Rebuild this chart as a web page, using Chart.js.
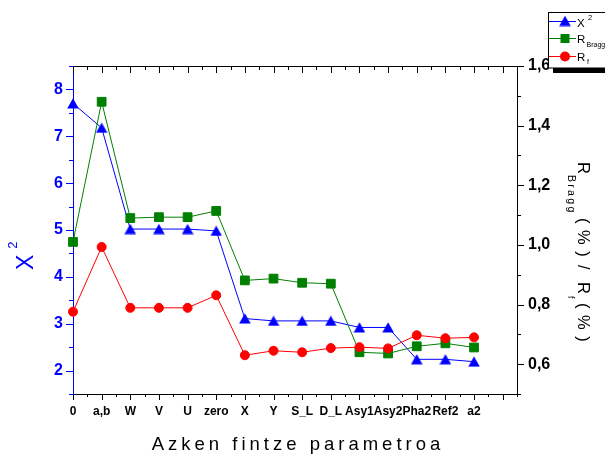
<!DOCTYPE html>
<html>
<head>
<meta charset="utf-8">
<script src="https://cdn.jsdelivr.net/npm/chart.js@4"></script>
<style>
  html, body { margin: 0; padding: 0; background: #fff; }
  canvas { display: block; }
</style>
</head>
<body>
<canvas id="c" width="605" height="455"></canvas>
<script>
// Refinement steps (x categories) and the fit quality after each step
const parameters = ['0', 'a,b', 'W', 'V', 'U', 'zero', 'X', 'Y', 'S_L', 'D_L', 'Asy1', 'Asy2', 'Pha2', 'Ref2', 'a2'];
const chiSquare = [7.70, 7.18, 5.02, 5.02, 5.02, 4.98, 3.11, 3.06, 3.06, 3.06, 2.92, 2.92, 2.24, 2.24, 2.19];
const rBragg    = [1.010, 1.480, 1.090, 1.093, 1.093, 1.114, 0.881, 0.887, 0.873, 0.870, 0.640, 0.636, 0.660, 0.670, 0.656];
const rF        = [0.776, 0.993, 0.789, 0.789, 0.789, 0.831, 0.630, 0.645, 0.640, 0.654, 0.657, 0.653, 0.697, 0.687, 0.690];

// Tick values of the two vertical axes
const chiTicks = [2, 3, 4, 5, 6, 7, 8];
const rTicks = [0.6, 0.8, 1.0, 1.2, 1.4, 1.6];

const FONT = '"Liberation Sans", Arial, sans-serif';
const BLUE = '#0000ff', GREEN = '#008000', RED = '#ff0000';

// Triangle marker centred on its bounding box
function triangleMarker(color) {
  const c = document.createElement('canvas');
  c.width = 12; c.height = 11;
  const g = c.getContext('2d');
  g.fillStyle = color;
  g.beginPath();
  g.moveTo(6, 0.3);
  g.lineTo(11.8, 10.6);
  g.lineTo(0.2, 10.6);
  g.closePath();
  g.fill();
  return c;
}
const triangle = triangleMarker(BLUE);

const toPoints = arr => arr.map((v, i) => ({ x: i, y: v }));

function seg(ctx, x1, y1, x2, y2, color, w) {
  ctx.strokeStyle = color;
  ctx.lineWidth = w;
  ctx.beginPath();
  ctx.moveTo(x1, y1);
  ctx.lineTo(x2, y2);
  ctx.stroke();
}

function drawSpaced(ctx, text, x, y, sp) {
  for (const ch of text) {
    ctx.fillText(ch, x, y);
    x += ctx.measureText(ch).width + sp;
  }
  return x;
}
function spacedWidth(ctx, text, sp) {
  let w = 0;
  for (const ch of text) w += ctx.measureText(ch).width + sp;
  return w - sp;
}

// Frame ticks, axis titles and the legend box
const decorations = {
  id: 'decorations',
  afterDraw(chart) {
    const { ctx, chartArea: a, scales } = chart;
    const sx = scales.x, sl = scales.y, sr = scales.y1;
    ctx.save();

    // top border of the frame
    seg(ctx, a.left, Math.round(a.top) + 0.5, a.right, Math.round(a.top) + 0.5, '#000', 1);

    // bottom (outward) and top (inward) ticks, majors on integers
    for (let k = 0; k <= 31; k++) {
      const px = Math.round(sx.getPixelForValue(k / 2)) + 0.5;
      const major = k % 2 === 0;
      seg(ctx, px, a.bottom, px, a.bottom + (major ? 6 : 3), '#000', 1);
      seg(ctx, px, a.top, px, a.top + (major ? 7 : 4), '#000', 1);
    }
    // left axis ticks
    for (let k = 3; k <= 17; k++) {
      const py = Math.round(sl.getPixelForValue(k / 2)) + 0.5;
      const major = k % 2 === 0;
      seg(ctx, a.left, py, a.left - (major ? 7 : 4), py, BLUE, 1);
    }
    // right axis ticks
    for (let k = 5; k <= 16; k++) {
      const py = Math.round(sr.getPixelForValue(k / 10)) + 0.5;
      const major = k % 2 === 0;
      seg(ctx, a.right, py, a.right + (major ? 7 : 4), py, '#000', 1);
    }

    // x axis title
    ctx.fillStyle = '#000';
    ctx.textBaseline = 'alphabetic';
    ctx.textAlign = 'left';
    ctx.font = `18.5px ${FONT}`;
    const xt = 'Azken fintze parametroa';
    const xw = spacedWidth(ctx, xt, 4);
    drawSpaced(ctx, xt, (a.left + a.right) / 2 - xw / 2 + 1, 450, 4);

    // left axis title: X²
    ctx.save();
    ctx.translate(33, 270);
    ctx.rotate(-Math.PI / 2);
    ctx.fillStyle = BLUE;
    ctx.font = `23px ${FONT}`;
    ctx.fillText('X', 0, 0);
    const xW = ctx.measureText('X').width;
    ctx.font = `13px ${FONT}`;
    ctx.fillText('2', xW + 6, -16);
    ctx.restore();

    // right axis title: R_Bragg (%) / R_f (%)
    ctx.save();
    ctx.translate(578, 162);
    ctx.rotate(Math.PI / 2);
    ctx.fillStyle = '#000';
    ctx.font = `16.5px ${FONT}`;
    ctx.fillText('R', 0, 0);
    ctx.font = `10.5px ${FONT}`;
    drawSpaced(ctx, 'Bragg', 13, 10, 2.3);
    ctx.font = `16.5px ${FONT}`;
    drawSpaced(ctx, '(%)', 56, 0, 6.5);
    ctx.fillText('/', 103, 0);
    ctx.fillText('R', 120, 0);
    ctx.font = `9px ${FONT}`;
    ctx.fillText('f', 134, 10);
    ctx.font = `16.5px ${FONT}`;
    drawSpaced(ctx, '(%)', 141, 0, 6.5);
    ctx.restore();

    // legend box with its shadow
    ctx.fillStyle = '#fff';
    ctx.fillRect(548, 12, 70, 56);
    ctx.fillStyle = '#000';
    ctx.fillRect(553, 68, 70, 5);
    ctx.strokeStyle = '#000';
    ctx.lineWidth = 1;
    ctx.strokeRect(548.5, 12.5, 70, 55.5);

    const ly = [21, 38.5, 56.5];
    seg(ctx, 549, ly[0] + 0.5, 576, ly[0] + 0.5, BLUE, 1);
    ctx.drawImage(triangle, 565 - 6, ly[0] - 5.5);
    seg(ctx, 549, ly[1], 576, ly[1], GREEN, 1);
    ctx.fillStyle = GREEN;
    ctx.fillRect(560.5, ly[1] - 4.5, 9, 9);
    seg(ctx, 549, ly[2], 576, ly[2], RED, 1);
    ctx.fillStyle = RED;
    ctx.beginPath();
    ctx.arc(565, ly[2], 5, 0, Math.PI * 2);
    ctx.fill();

    ctx.fillStyle = '#000';
    ctx.font = `11.5px ${FONT}`;
    ctx.fillText('X', 577, 26.5);
    ctx.font = `7.5px ${FONT}`;
    ctx.fillText('2', 588, 19.5);
    ctx.font = `11.5px ${FONT}`;
    ctx.fillText('R', 577, 43);
    ctx.font = `7px ${FONT}`;
    ctx.fillText('Bragg', 586.5, 46.5);
    ctx.font = `11.5px ${FONT}`;
    ctx.fillText('R', 577, 61);
    ctx.font = `7px ${FONT}`;
    ctx.fillText('f', 587, 63.5);

    ctx.restore();
  }
};

new Chart(document.getElementById('c'), {
  type: 'line',
  data: {
    datasets: [
      {
        label: 'X²', data: toPoints(chiSquare), yAxisID: 'y',
        borderColor: BLUE, backgroundColor: BLUE, borderWidth: 1,
        pointStyle: triangle, pointRadius: 6, order: 3, clip: false
      },
      {
        label: 'R_Bragg', data: toPoints(rBragg), yAxisID: 'y1',
        borderColor: GREEN, backgroundColor: GREEN, borderWidth: 1,
        pointStyle: 'rect', pointRadius: 6.2, pointBorderWidth: 1, order: 2, clip: false
      },
      {
        label: 'R_f', data: toPoints(rF), yAxisID: 'y1',
        borderColor: RED, backgroundColor: RED, borderWidth: 1,
        pointStyle: 'circle', pointRadius: 4.5, pointBorderWidth: 1, order: 1, clip: false
      }
    ]
  },
  options: {
    responsive: false,
    animation: false,
    devicePixelRatio: 1,
    layout: { padding: { top: 66, left: 0, right: 0, bottom: 0 } },
    elements: { line: { tension: 0 } },
    plugins: { legend: { display: false }, tooltip: { enabled: false } },
    scales: {
      x: {
        type: 'linear', position: 'bottom', min: 0, max: 15.5,
        afterBuildTicks: s => { s.ticks = parameters.map((_, i) => ({ value: i })); },
        afterFit: s => { s.height = 61; },
        grid: { display: false, drawTicks: false },
        border: { display: true, color: '#000', width: 1 },
        ticks: {
          autoSkip: false, maxRotation: 0, minRotation: 0, padding: 10,
          color: '#000', font: { family: FONT, weight: 'bold', size: 12 },
          callback: v => parameters[v] ?? ''
        }
      },
      y: {
        position: 'left', min: 1.5, max: 8.5,
        afterBuildTicks: s => { s.ticks = chiTicks.map(v => ({ value: v })); },
        afterFit: s => { s.width = 73; },
        grid: { display: false, drawTicks: false },
        border: { display: true, color: BLUE, width: 1 },
        ticks: {
          padding: 10, color: BLUE,
          font: { family: FONT, weight: 'bold', size: 16 },
          callback: v => String(v)
        }
      },
      y1: {
        position: 'right', min: 0.5, max: 1.6,
        afterBuildTicks: s => { s.ticks = rTicks.map(v => ({ value: v })); },
        afterFit: s => { s.width = 88; },
        grid: { display: false, drawTicks: false },
        border: { display: true, color: '#000', width: 1 },
        ticks: {
          padding: 11, color: '#000',
          font: { family: FONT, weight: 'bold', size: 16 },
          callback: v => v.toFixed(1).replace('.', ',')
        }
      }
    }
  },
  plugins: [decorations]
});
</script>
</body>
</html>
